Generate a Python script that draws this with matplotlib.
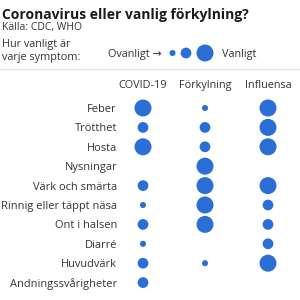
import matplotlib.pyplot as plt

plt.rcParams['font.family'] = ['Open Sans', 'DejaVu Sans']

symptoms = ["Feber", "Trötthet", "Hosta", "Nysningar", "Värk och smärta",
            "Rinnig eller täppt näsa", "Ont i halsen", "Diarré", "Huvudvärk",
            "Andningssvårigheter"]
diseases = ["COVID-19", "Förkylning", "Influensa"]
# 0 = none, 1 = ovanligt, 2 = ibland, 3 = vanligt
covid = [3, 2, 3, 0, 2, 1, 2, 1, 2, 2]
cold = [1, 2, 2, 3, 3, 3, 3, 0, 1, 0]
flu = [3, 3, 3, 0, 3, 2, 2, 2, 3, 0]

blue = '#2b6fd6'
sizes = {1: 19, 2: 60, 3: 150}
va = 'center_baseline'

fig = plt.figure(figsize=(3, 3), dpi=100)
ax = fig.add_axes([0, 0, 1, 1])
ax.set_xlim(0, 300)
ax.set_ylim(300, 0)
ax.axis('off')

# ======================== header
ax.text(2, 13, "Coronavirus eller vanlig förkylning?", fontsize=10,
        fontweight='bold', color='#1a1a1a', va=va)
ax.text(2, 26, "Källa: CDC, WHO", fontsize=7.5, color='#333333', va=va)
ax.text(2, 43, "Hur vanligt är", fontsize=7.8, color='#333333', va=va)
ax.text(2, 56, "varje symptom:", fontsize=7.8, color='#333333', va=va)
ax.text(108, 53, "Ovanligt →", fontsize=7.8, color='#333333', va=va)
ax.scatter([172.5, 186, 205], [53, 53, 53], s=[sizes[1], sizes[2], sizes[3]],
           color=blue, linewidths=0)
ax.text(222, 53, "Vanligt", fontsize=7.8, color='#333333', va=va)
ax.plot([0, 300], [69, 69], color='#e6e6e6', lw=1)

# ======================== grid
col_x = [143, 205, 268]
row_y = [108 + i * 19.4 for i in range(len(symptoms))]
for cx, name in zip(col_x, diseases):
    ax.text(cx, 84, name, fontsize=7.8, color='#333333', ha='center', va=va)
for ry, name in zip(row_y, symptoms):
    ax.text(117, ry, name, fontsize=7.9, color='#333333', ha='right', va=va)
for cx, vals in zip(col_x, [covid, cold, flu]):
    xs = [cx for v in vals if v > 0]
    ys = [ry for ry, v in zip(row_y, vals) if v > 0]
    ss = [sizes[v] for v in vals if v > 0]
    ax.scatter(xs, ys, s=ss, color=blue, linewidths=0)

fig.savefig("out.png", dpi=100)
